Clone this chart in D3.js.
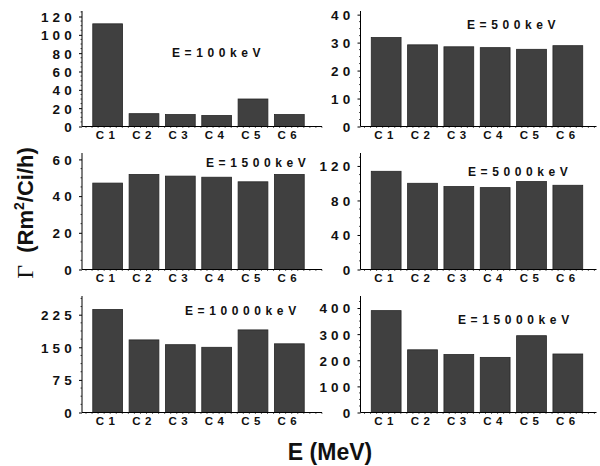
<!DOCTYPE html>
<html>
<head>
<meta charset="utf-8">
<script src="https://cdn.jsdelivr.net/npm/d3@7"></script>
<style>
  body { margin: 0; background: #fff; }
  svg { font-family: "Liberation Sans", Arial, sans-serif; }
</style>
</head>
<body>
<svg id="chart" width="600" height="466"></svg>
<script>
// categories and energy labels
const categories = ['C1', 'C2', 'C3', 'C4', 'C5', 'C6'];
const energyLabels = ['E=100keV', 'E=500keV', 'E=1500keV', 'E=5000keV', 'E=10000keV', 'E=15000keV'];

// values (Rm2/Ci/h)
const vals100 = [112, 14, 13, 12, 30, 13];
const vals500 = [31.8, 29.2, 28.5, 28.2, 27.6, 28.9];
const vals1500 = [47.1, 51.8, 50.9, 50.3, 47.8, 51.8];
const vals5000 = [113.8, 99.9, 96.1, 94.9, 101.9, 97.6];
const vals10000 = [237, 167, 156, 150, 190, 158];
const vals15000 = [390, 240, 222, 211, 294, 224];

// y axis ticks and axis maximum for each panel
const ticks100 = [0, 20, 40, 60, 80, 100, 120];
const ticks500 = [0, 10, 20, 30, 40];
const ticks1500 = [0, 20, 40, 60];
const ticks5000 = [0, 40, 80, 120];
const ticks10000 = [0, 75, 150, 225];
const ticks15000 = [0, 100, 200, 300, 400];
const yMaxes = [126, 41.3, 63.5, 135, 268, 446];

const panelValues = [vals100, vals500, vals1500, vals5000, vals10000, vals15000];
const panelTicks = [ticks100, ticks500, ticks1500, ticks5000, ticks10000, ticks15000];

const svg = d3.select('#chart');

// layout
const colX = [82, 360.5];
const axisLen = [240, 236];
const rowBase = [126.5, 269.5, 412.5];
const rowTop = [11, 153, 296];
// title positions (left edge, baseline)
const titlePos = [[172, 57], [467, 29], [206, 167], [468, 176], [185, 315], [458, 324]];

panelValues.forEach((vals, i) => {
    const col = i % 2, row = Math.floor(i / 2);
    const x0 = colX[col];
    const g = svg.append('g');

    const x = d3.scaleBand()
        .domain(categories)
        .range([x0 + 7.5, x0 + 225.5])
        .paddingInner(0.18)
        .paddingOuter(0.09);

    const y = d3.scaleLinear()
        .domain([0, yMaxes[i]])
        .range([rowBase[row], rowTop[row]]);

    // bars
    g.selectAll('rect')
        .data(vals)
        .join('rect')
        .attr('x', (d, j) => x(categories[j]))
        .attr('y', d => y(d))
        .attr('width', x.bandwidth())
        .attr('height', d => y(0) - y(d))
        .attr('fill', '#404040')
        .attr('stroke', '#262626')
        .attr('stroke-width', 0.8);

    // y axis
    const ticks = panelTicks[i];
    const step = ticks[1] - ticks[0];
    const minor = d3.range(0, yMaxes[i], step / 4).filter(v => ticks.indexOf(v) < 0);

    const yAxis = d3.axisLeft(y)
        .tickValues(ticks)
        .tickSize(3)
        .tickFormat(d => d);
    const ya = g.append('g')
        .attr('transform', `translate(${x0},0)`)
        .call(yAxis);
    ya.select('.domain').attr('d', `M0,${rowTop[row]}V${rowBase[row]}`).attr('stroke', '#000').attr('stroke-width', 1);
    ya.selectAll('.tick line').attr('stroke', '#000');
    // letter-spacing adds a trailing gap, so push the anchor right by that amount
    ya.selectAll('.tick text')
        .attr('x', -6)
        .attr('dy', '0.36em')
        .style('font-size', '13.5px')
        .style('font-weight', 'bold')
        .style('letter-spacing', '4.2px')
        .attr('fill', '#111');

    g.append('g')
        .selectAll('line')
        .data(minor)
        .join('line')
        .attr('x1', x0 - 1.5)
        .attr('x2', x0)
        .attr('y1', d => y(d))
        .attr('y2', d => y(d))
        .attr('stroke', '#000')
        .attr('stroke-width', 0.7);

    // x axis line with little minor ticks
    g.append('line')
        .attr('x1', x0)
        .attr('x2', x0 + axisLen[col])
        .attr('y1', rowBase[row])
        .attr('y2', rowBase[row])
        .attr('stroke', '#000')
        .attr('stroke-width', 1.2);

    const xMinor = d3.range(x0 + 4, x0 + axisLen[col], 36.3 / 6);
    g.append('g')
        .selectAll('line')
        .data(xMinor)
        .join('line')
        .attr('x1', d => d)
        .attr('x2', d => d)
        .attr('y1', rowBase[row])
        .attr('y2', rowBase[row] + 1.5)
        .attr('stroke', '#000')
        .attr('stroke-width', 0.6);

    // category labels
    g.selectAll('text.cat')
        .data(categories)
        .join('text')
        .attr('class', 'cat')
        .attr('x', d => x(d) + x.bandwidth() / 2)
        .attr('dx', 0)
        .attr('y', rowBase[row] + 12)
        .attr('text-anchor', 'middle')
        .style('font-size', '11.5px')
        .style('font-weight', 'bold')
        .style('letter-spacing', '4.5px')
        .attr('fill', '#111')
        .text(d => d);

    // energy title
    g.append('text')
        .attr('x', titlePos[i][0])
        .attr('y', titlePos[i][1])
        .style('font-size', '12px')
        .style('font-weight', 'bold')
        .style('letter-spacing', '4.6px')
        .attr('fill', '#111')
        .text(energyLabels[i]);
});

// y axis title
const yTitle = svg.append('text')
    .attr('transform', 'translate(33,213) rotate(-90)')
    .attr('text-anchor', 'middle')
    .attr('fill', '#111');
yTitle.append('tspan')
    .style('font-family', '"Liberation Serif", "Times New Roman", serif')
    .style('font-size', '24px')
    .text('Γ');
yTitle.append('tspan')
    .style('font-size', '22px')
    .style('font-weight', 'bold')
    .text('\u00a0\u00a0(Rm');
yTitle.append('tspan')
    .style('font-size', '14px')
    .style('font-weight', 'bold')
    .attr('dy', -9)
    .text('2');
yTitle.append('tspan')
    .style('font-size', '22px')
    .style('font-weight', 'bold')
    .attr('dy', 9)
    .text('/Ci/h)');

// x axis title
svg.append('text')
    .attr('x', 330)
    .attr('y', 460)
    .attr('text-anchor', 'middle')
    .style('font-size', '23px')
    .style('font-weight', 'bold')
    .attr('fill', '#111')
    .text('E (MeV)');
</script>
</body>
</html>
